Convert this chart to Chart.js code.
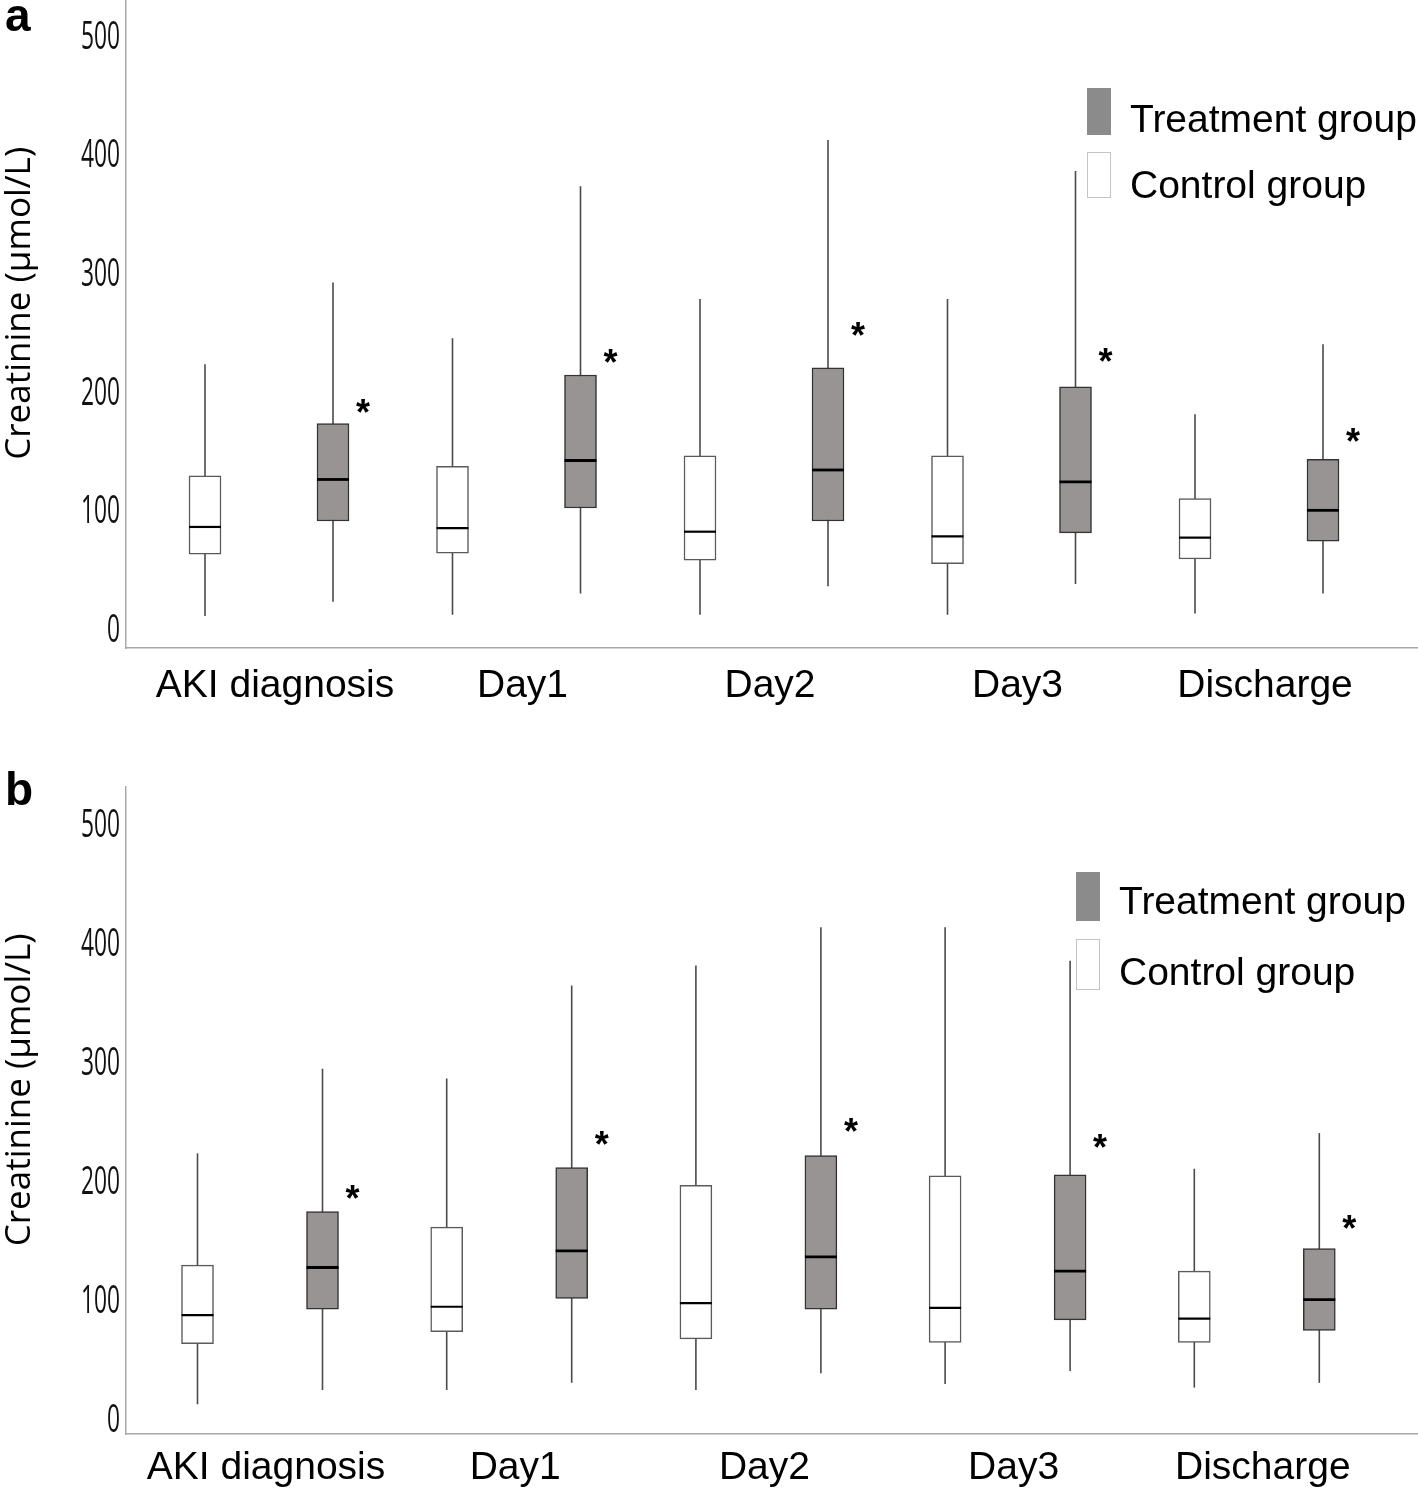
<!DOCTYPE html>
<html>
<head>
<meta charset="utf-8">
<script src="https://cdn.jsdelivr.net/npm/chart.js@4.4.0/dist/chart.umd.min.js"></script>
<style>
  body { margin: 0; background: #fff; width: 1418px; height: 1489px; position: relative; overflow: hidden;
         font-family: "Liberation Sans", Arial, sans-serif; }
  .panel { position: absolute; left: 0; width: 1418px; }
  .tag { position: absolute; left: 5px; font-weight: bold; font-size: 46px; line-height: 46px; }
  .sw { position: absolute; width: 24px; box-sizing: border-box; }
  .lt { position: absolute; font-size: 39px; line-height: 44px; white-space: nowrap; }
</style>
</head>
<body>
<div class="panel" style="top:0;height:720px"><canvas id="chartA" width="1418" height="720"></canvas></div>
<div class="panel" style="top:720px;height:769px"><canvas id="chartB" width="1418" height="769"></canvas></div>

<div class="tag" style="top:-8px">a</div>
<div class="tag" style="top:766px">b</div>

<div class="sw" style="left:1087px;top:88px;height:47px;background:#8b8b8b"></div>
<div class="lt" style="left:1130px;top:97px">Treatment group</div>
<div class="sw" style="left:1087px;top:152px;height:46px;background:#fff;border:1px solid #c4c4c4"></div>
<div class="lt" style="left:1130px;top:163px">Control group</div>

<div class="sw" style="left:1076px;top:872px;height:49px;background:#8b8b8b"></div>
<div class="lt" style="left:1119px;top:879px">Treatment group</div>
<div class="sw" style="left:1076px;top:939px;height:51px;background:#fff;border:1px solid #c4c4c4"></div>
<div class="lt" style="left:1119px;top:950px">Control group</div>

<script>
const catLabels = ["AKI diagnosis", "Day1", "Day2", "Day3", "Discharge"];
const yTicks = [0, 100, 200, 300, 400, 500];
const yTitle = "Creatinine (μmol/L)";

// panel a (umol/L): min, Q1, median, Q3, max
const aCtrlMin = [12, 13, 13, 13, 14];
const aCtrlQ1 = [64, 65, 59, 56, 60];
const aCtrlMed = [87, 86, 83, 79, 78];
const aCtrlQ3 = [130, 138, 147, 147, 111];
const aCtrlMax = [224, 246, 279, 279, 182];
const aTrtMin = [24, 31, 37, 39, 31];
const aTrtQ1 = [92, 103, 92, 82, 75];
const aTrtMed = [127, 143, 135, 125, 101];
const aTrtQ3 = [174, 215, 221, 205, 144];
const aTrtMax = [293, 374, 413, 387, 241];
const aStar = [190, 232, 255, 233, 165];

// panel b
const bCtrlMin = [13, 25, 25, 30, 27];
const bCtrlQ1 = [64, 74, 68, 65, 65];
const bCtrlMed = [88, 95, 98, 94, 85];
const bCtrlQ3 = [130, 162, 197, 205, 125];
const bCtrlMax = [224, 287, 382, 414, 211];
const bTrtMin = [25, 31, 39, 41, 31];
const bTrtQ1 = [93, 102, 93, 84, 75];
const bTrtMed = [128, 142, 137, 125, 101];
const bTrtQ3 = [175, 212, 222, 206, 144];
const bTrtMax = [295, 365, 414, 386, 241];
const bStar = [192, 238, 249, 235, 167];

const boxPlotPlugin = {
  id: "boxPlot",
  beforeDatasetsDraw(chart) {
    const ctx = chart.ctx;
    const y = chart.scales.y;
    ctx.save();
    ctx.strokeStyle = "#4a4a4a";
    ctx.lineWidth = 1.6;
    chart.data.datasets.forEach((ds, d) => {
      chart.getDatasetMeta(d).data.forEach((el, i) => {
        ctx.beginPath();
        ctx.moveTo(el.x, y.getPixelForValue(ds.whiskerMin[i]));
        ctx.lineTo(el.x, y.getPixelForValue(ds.whiskerMax[i]));
        ctx.stroke();
      });
    });
    ctx.restore();
  },
  afterDatasetsDraw(chart) {
    const ctx = chart.ctx;
    const y = chart.scales.y;
    ctx.save();
    ctx.strokeStyle = "#000";
    chart.data.datasets.forEach((ds, d) => {
      ctx.lineWidth = ds.medianWidth;
      chart.getDatasetMeta(d).data.forEach((el, i) => {
        const py = y.getPixelForValue(ds.median[i]);
        ctx.beginPath();
        ctx.moveTo(el.x - el.width / 2, py);
        ctx.lineTo(el.x + el.width / 2, py);
        ctx.stroke();
      });
      if (ds.stars) {
        ctx.fillStyle = "#000";
        ctx.font = "bold 36px 'Liberation Sans', Arial, sans-serif";
        ctx.textAlign = "center";
        ctx.textBaseline = "alphabetic";
        chart.getDatasetMeta(d).data.forEach((el, i) => {
          ctx.fillText("*", el.x + 30, y.getPixelForValue(ds.stars[i]) + 20);
        });
      }
    });
    ctx.restore();
  }
};

// narrow y tick labels and the axis title, placed from the y scale
const yAxisTextPlugin = {
  id: "yAxisText",
  afterDraw(chart) {
    const ctx = chart.ctx;
    const y = chart.scales.y;
    const area = chart.chartArea;
    ctx.save();
    ctx.fillStyle = "#111";
    ctx.font = "38px 'Open Sans', sans-serif";
    ctx.textAlign = "right";
    ctx.textBaseline = "middle";
    y.ticks.forEach(t => {
      ctx.save();
      ctx.translate(area.left - 6, y.getPixelForValue(t.value) + 1);
      ctx.scale(0.6, 1);
      ctx.fillText(String(t.value), 0, 0);
      ctx.restore();
    });
    ctx.fillStyle = "#000";
    ctx.font = "35px 'Open Sans', sans-serif";
    ctx.textAlign = "center";
    ctx.translate(20, area.top + (area.bottom - area.top) * 0.468);
    ctx.rotate(-Math.PI / 2);
    ctx.fillText(yTitle, 0, 0);
    ctx.restore();
  }
};

function makePanel(id, ctrl, trt, stars, geo) {
  const xMin = -(geo.first - 126) / geo.step;
  const xMax = xMin + 1292 / geo.step;
  const half = geo.gap / 2 / geo.step;
  return new Chart(document.getElementById(id), {
    type: "bar",
    data: {
      datasets: [
        {
          label: "Control group",
          data: catLabels.map((c, i) => ({ x: i - half, y: [ctrl[1][i], ctrl[3][i]] })),
          whiskerMin: ctrl[0],
          median: ctrl[2],
          whiskerMax: ctrl[4],
          medianWidth: 2.2,
          backgroundColor: "#ffffff",
          borderColor: "#5a5a5a",
          borderWidth: 1.5,
          borderSkipped: false
        },
        {
          label: "Treatment group",
          data: catLabels.map((c, i) => ({ x: i + half, y: [trt[1][i], trt[3][i]] })),
          whiskerMin: trt[0],
          median: trt[2],
          whiskerMax: trt[4],
          stars: stars,
          medianWidth: 2.8,
          backgroundColor: "#989494",
          borderColor: "#333333",
          borderWidth: 1.5,
          borderSkipped: false
        }
      ]
    },
    options: {
      responsive: false,
      animation: false,
      grouped: false,
      barThickness: 32,
      layout: { padding: { top: geo.padTop, left: 0, right: 0, bottom: 0 } },
      plugins: { legend: { display: false }, tooltip: { enabled: false } },
      scales: {
        x: {
          type: "linear",
          offset: false,
          min: xMin,
          max: xMax,
          grid: { display: false, drawTicks: false },
          border: { display: true, color: "#a8a8a8", width: 1.5 },
          ticks: {
            stepSize: 1,
            includeBounds: false,
            autoSkip: false,
            maxRotation: 0,
            padding: geo.labelPad,
            labelOffset: 6,
            color: "#000",
            font: { family: "'Liberation Sans', Arial, sans-serif", size: 39 },
            callback: v => (Number.isInteger(v) && catLabels[v] ? catLabels[v] : "")
          },
          afterFit: s => { s.height = geo.xHeight; s.paddingLeft = 0; s.paddingRight = 0; }
        },
        y: {
          min: geo.yMin,
          max: geo.yMax,
          grid: { display: false, drawTicks: false },
          border: { display: true, color: "#a8a8a8", width: 1.5 },
          afterBuildTicks: s => { s.ticks = yTicks.map(v => ({ value: v })); },
          ticks: { display: false },
          afterFit: s => { s.width = 126; s.paddingTop = 0; s.paddingBottom = 0; }
        }
      }
    },
    plugins: [boxPlotPlugin, yAxisTextPlugin]
  });
}

makePanel("chartA",
  [aCtrlMin, aCtrlQ1, aCtrlMed, aCtrlQ3, aCtrlMax],
  [aTrtMin, aTrtQ1, aTrtMed, aTrtQ3, aTrtMax],
  aStar,
  { first: 269, step: 247.5, gap: 128, padTop: 0, xHeight: 72, labelPad: 15, yMin: -15, yMax: 531 });

makePanel("chartB",
  [bCtrlMin, bCtrlQ1, bCtrlMed, bCtrlQ3, bCtrlMax],
  [bTrtMin, bTrtQ1, bTrtMed, bTrtQ3, bTrtMax],
  bStar,
  { first: 260, step: 249.2, gap: 125, padTop: 67, xHeight: 55, labelPad: 11, yMin: -12, yMax: 532 });
</script>
</body>
</html>
